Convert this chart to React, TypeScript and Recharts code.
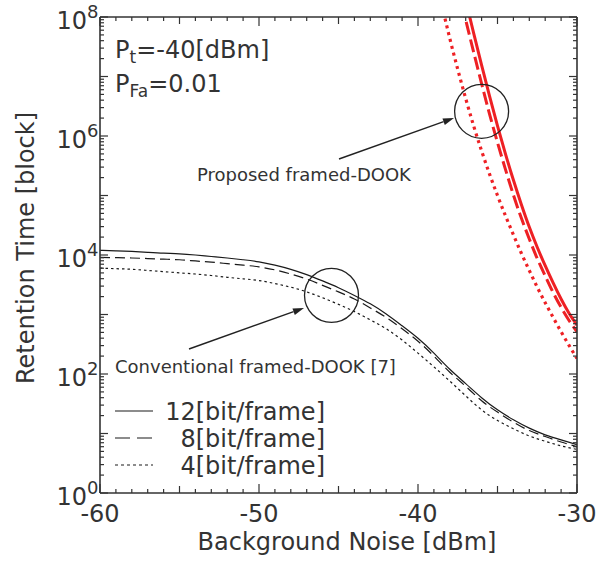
import React from "react";
import { LineChart, Line, XAxis, YAxis, ReferenceDot } from "recharts";

// noise level [dBm] where the conventional curves were read
const xConv = [-60, -59, -58, -57, -56, -55, -54, -53, -52, -51, -50, -49, -48, -47, -46, -45, -44, -43, -42, -41, -40, -39, -38, -37, -36, -35, -34, -33, -32, -31, -30];
const conv12 = [12000, 11750, 11480, 11090, 10720, 10470, 10000, 9440, 8910, 8320, 7670, 6760, 5750, 4680, 3670, 2820, 2090, 1510, 1020, 646, 398, 224, 120, 69, 40, 25, 17, 12.3, 9.5, 7.8, 6.5];
const conv8 = [9120, 9020, 8910, 8710, 8510, 8320, 7940, 7590, 7160, 6760, 6310, 5620, 4790, 3940, 3090, 2400, 1820, 1290, 891, 575, 355, 200, 107, 62, 35.5, 22.9, 15.5, 11.2, 8.9, 7.2, 6.0];
const conv4 = [6030, 5890, 5750, 5500, 5250, 5010, 4790, 4520, 4220, 3980, 3720, 3310, 2880, 2400, 1910, 1480, 1120, 813, 575, 372, 224, 132, 76, 43, 25, 16.6, 12, 9.1, 7.4, 6.2, 5.4];

// proposed scheme (red), null = off the top of the plot
const xProp = [-39, -38.5, -38, -37.5, -37, -36.5, -36, -35.5, -35, -34.5, -34, -33.5, -33, -32.5, -32, -31.5, -31, -30.5, -30];
const prop12 = [null, null, null, null, 1.9e8, 5.37e7, 1.55e7, 4.68e6, 1.48e6, 5.01e5, 1.82e5, 7.08e4, 2.95e4, 1.35e4, 6610, 3390, 1820, 1050, 661];
const prop8 = [null, null, null, 3.2e8, 8.9e7, 2.57e7, 7.59e6, 2.34e6, 7.76e5, 2.75e5, 1.02e5, 4.17e4, 1.86e4, 8710, 4470, 2340, 1320, 794, 513];
const prop4 = [6.0e8, 1.58e8, 4.37e7, 1.32e7, 4.27e6, 1.48e6, 5.62e5, 2.29e5, 1.0e5, 4.57e4, 2.19e4, 1.07e4, 5500, 2880, 1580, 891, 513, 302, 182];

const xTicks = [-60, -59, -58, -57, -56, -55, -54, -53, -52, -51, -50, -49, -48, -47, -46, -45, -44, -43, -42, -41, -40, -39, -38, -37, -36, -35, -34, -33, -32, -31, -30];
const decades = [1, 10, 100, 1e3, 1e4, 1e5, 1e6, 1e7, 1e8];
const minorTicks: number[] = [];
decades.slice(0, 8).forEach((d) => {
  for (let m = 2; m <= 9; m++) minorTicks.push(m * d);
});
const yTicks = [...decades, ...minorTicks].sort((a, b) => a - b);

const FONT = "DejaVu Sans";
const AXIS = "#333";
const TEXT = "#333";
const RED = "#ee2024";
const BLACK = "#1a1a1a";

const toRows = (xs: number[], ys: (number | null)[]) =>
  xs.map((x, i) => ({ x, y: ys[i] })).filter((r) => r.y !== null);

const isDecade = (v: number) => {
  const l = Math.log10(v);
  return Math.abs(l - Math.round(l)) < 1e-9;
};

const BottomTick = (props: any) => {
  const { x, y, payload } = props;
  const v = payload.value;
  const len = v % 10 === 0 ? 9 : v % 5 === 0 ? 7 : 4;
  return (
    <g>
      <line x1={x} y1={y} x2={x} y2={y - len} stroke={AXIS} strokeWidth={1.2} />
      {v % 10 === 0 && (
        <text x={x} y={y + 29} textAnchor="middle" fontFamily={FONT} fontSize={24} fill={TEXT}>
          {v}
        </text>
      )}
    </g>
  );
};

const TopTick = (props: any) => {
  const { x, y, payload } = props;
  const v = payload.value;
  const len = v % 10 === 0 ? 9 : v % 5 === 0 ? 7 : 4;
  return <line x1={x} y1={y} x2={x} y2={y + len} stroke={AXIS} strokeWidth={1.2} />;
};

const LeftTick = (props: any) => {
  const { x, y, payload } = props;
  const v = payload.value;
  const dec = isDecade(v);
  const exp = Math.round(Math.log10(v));
  return (
    <g>
      <line x1={x} y1={y} x2={x + (dec ? 8 : 4)} y2={y} stroke={AXIS} strokeWidth={1.2} />
      {dec && exp % 2 === 0 && (
        <g fontFamily={FONT} fill={TEXT}>
          <text x={x - 13} y={y + 12} textAnchor="end" fontSize={24}>10</text>
          <text x={x - 13} y={y + 1} textAnchor="start" fontSize={18}>{exp}</text>
        </g>
      )}
    </g>
  );
};

const RightTick = (props: any) => {
  const { x, y, payload } = props;
  const dec = isDecade(payload.value);
  return <line x1={x} y1={y} x2={x - (dec ? 8 : 4)} y2={y} stroke={AXIS} strokeWidth={1.2} />;
};

const Arrow = ({ x1, y1, x2, y2 }: { x1: number; y1: number; x2: number; y2: number }) => {
  const a = Math.atan2(y2 - y1, x2 - x1);
  const L = 11;
  const W = 3.5;
  const bx = x2 - L * Math.cos(a);
  const by = y2 - L * Math.sin(a);
  const p1 = `${bx + W * Math.sin(a)},${by - W * Math.cos(a)}`;
  const p2 = `${bx - W * Math.sin(a)},${by + W * Math.cos(a)}`;
  return (
    <g>
      <line x1={x1} y1={y1} x2={bx} y2={by} stroke="#222" strokeWidth={1.4} />
      <polygon points={`${x2},${y2} ${p1} ${p2}`} fill="#222" />
    </g>
  );
};

export default function App() {
  return (
    <div style={{ position: "absolute", left: 0, top: 0, width: 610, height: 564, background: "#fff" }}>
      <LineChart width={610} height={564} margin={{ top: 0, right: 0, bottom: 0, left: 0 }}>
        <XAxis
          xAxisId="bottom"
          dataKey="x"
          type="number"
          domain={[-60, -30]}
          ticks={xTicks}
          interval={0}
          allowDataOverflow
          height={71}
          tickSize={0}
          tickMargin={0}
          tick={<BottomTick />}
          axisLine={{ stroke: AXIS, strokeWidth: 1.6 }}
          tickLine={false}
        />
        <XAxis
          xAxisId="top"
          orientation="top"
          dataKey="x"
          type="number"
          domain={[-60, -30]}
          ticks={xTicks}
          interval={0}
          allowDataOverflow
          height={17}
          tickSize={0}
          tickMargin={0}
          tick={<TopTick />}
          axisLine={{ stroke: AXIS, strokeWidth: 1.6 }}
          tickLine={false}
        />
        <YAxis
          yAxisId="left"
          type="number"
          scale="log"
          domain={[1, 1e8]}
          ticks={yTicks}
          interval={0}
          allowDataOverflow
          width={100}
          tickSize={0}
          tickMargin={0}
          tick={<LeftTick />}
          axisLine={{ stroke: AXIS, strokeWidth: 1.6 }}
          tickLine={false}
        />
        <YAxis
          yAxisId="right"
          orientation="right"
          type="number"
          scale="log"
          domain={[1, 1e8]}
          ticks={yTicks}
          interval={0}
          allowDataOverflow
          width={33}
          tickSize={0}
          tickMargin={0}
          tick={<RightTick />}
          axisLine={{ stroke: AXIS, strokeWidth: 1.6 }}
          tickLine={false}
        />

        <Line xAxisId="bottom" yAxisId="left" data={toRows(xConv, conv12)} dataKey="y" type="natural" stroke={BLACK} strokeWidth={1.2} dot={false} isAnimationActive={false} />
        <Line xAxisId="bottom" yAxisId="left" data={toRows(xConv, conv8)} dataKey="y" type="natural" stroke={BLACK} strokeWidth={1.2} strokeDasharray="10 5" dot={false} isAnimationActive={false} />
        <Line xAxisId="bottom" yAxisId="left" data={toRows(xConv, conv4)} dataKey="y" type="natural" stroke={BLACK} strokeWidth={1.2} strokeDasharray="2.5 3" dot={false} isAnimationActive={false} />

        <Line xAxisId="bottom" yAxisId="left" data={toRows(xProp, prop12)} dataKey="y" type="natural" stroke={RED} strokeWidth={3} dot={false} isAnimationActive={false} />
        <Line xAxisId="bottom" yAxisId="left" data={toRows(xProp, prop8)} dataKey="y" type="natural" stroke={RED} strokeWidth={3} strokeDasharray="13 5" dot={false} isAnimationActive={false} />
        <Line xAxisId="bottom" yAxisId="left" data={toRows(xProp, prop4)} dataKey="y" type="natural" stroke={RED} strokeWidth={3.2} strokeDasharray="3 4" dot={false} isAnimationActive={false} />

        <ReferenceDot xAxisId="bottom" yAxisId="left" x={-36} y={2.6e6} r={27} fill="none" stroke="#222" strokeWidth={1.3} />
        <ReferenceDot xAxisId="bottom" yAxisId="left" x={-45.44} y={2.1e3} r={27} fill="none" stroke="#222" strokeWidth={1.3} />
      </LineChart>

      <svg width={610} height={564} style={{ position: "absolute", left: 0, top: 0, pointerEvents: "none" }} fontFamily={FONT} fill={TEXT}>
        <text x={115} y={58} fontSize={24}>
          P<tspan fontSize={17} dy={5}>t</tspan>
          <tspan fontSize={24} dy={-5}>=-40[dBm]</tspan>
        </text>
        <text x={115} y={92} fontSize={24}>
          P<tspan fontSize={17} dy={5}>Fa</tspan>
          <tspan fontSize={24} dy={-5}>=0.01</tspan>
        </text>

        <text x={197} y={181} fontSize={18}>Proposed framed-DOOK</text>
        <Arrow x1={339} y1={159} x2={454} y2={118} />
        <text x={115} y={373} fontSize={18}>Conventional framed-DOOK [7]</text>
        <Arrow x1={189} y1={349} x2={304} y2={308} />

        <line x1={115} y1={411} x2={153} y2={411} stroke={BLACK} strokeWidth={1.2} />
        <line x1={115} y1={438} x2={153} y2={438} stroke={BLACK} strokeWidth={1.2} strokeDasharray="15 7" />
        <line x1={115} y1={465} x2={153} y2={465} stroke={BLACK} strokeWidth={1.2} strokeDasharray="3 3" />
        <text x={325} y={420} textAnchor="end" fontSize={24}>12[bit/frame]</text>
        <text x={325} y={447} textAnchor="end" fontSize={24}>8[bit/frame]</text>
        <text x={325} y={474} textAnchor="end" fontSize={24}>4[bit/frame]</text>

        <text x={347} y={550} textAnchor="middle" fontSize={24}>Background Noise [dBm]</text>
        <text x={34} y={248} textAnchor="middle" fontSize={24} transform="rotate(-90 34 248)">Retention Time [block]</text>
      </svg>
    </div>
  );
}
